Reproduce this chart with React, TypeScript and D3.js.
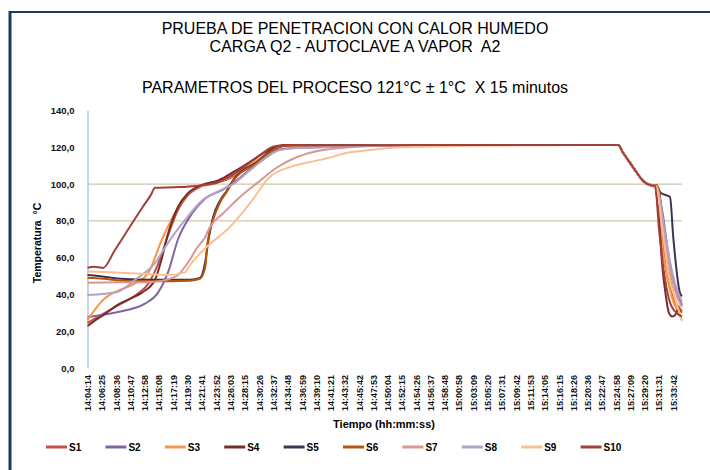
import React, { useEffect, useRef } from 'react';
import * as d3 from 'd3';

const titleLines = [
    'PRUEBA DE PENETRACION CON CALOR HUMEDO',
    'CARGA Q2 - AUTOCLAVE A VAPOR  A2',
    'PARAMETROS DEL PROCESO 121°C ± 1°C  X 15 minutos',
];

const timeLabels = [
    '14:04:14', '14:06:25', '14:08:36', '14:10:47', '14:12:58', '14:15:08', '14:17:19',
    '14:19:30', '14:21:41', '14:23:52', '14:26:03', '14:28:15', '14:30:26', '14:32:37',
    '14:34:48', '14:36:59', '14:39:10', '14:41:21', '14:43:32', '14:45:42', '14:47:53',
    '14:50:04', '14:52:15', '14:54:26', '14:56:37', '14:58:48', '15:00:58', '15:03:09',
    '15:05:20', '15:07:31', '15:09:42', '15:11:53', '15:14:05', '15:16:15', '15:18:26',
    '15:20:36', '15:22:47', '15:24:58', '15:27:09', '15:29:20', '15:31:31', '15:33:42',
];

const yTicks = [0, 20, 40, 60, 80, 100, 120, 140];
const gridValues = [80, 100];

const seriesNames = ['S1', 'S2', 'S3', 'S4', 'S5', 'S6', 'S7', 'S8', 'S9', 'S10'];
const seriesColors = ['#c0504d', '#8064a2', '#f79646', '#772c2a', '#403152',
    '#b65708', '#d99694', '#b3a2c7', '#fac090', '#a33f3b'];

// [seconds since 14:04:14, temperature °C]
const plateau = [[2300, 121.1], [3000, 121.2], [3800, 121.3], [4500, 121.2], [4864, 121.2]];
const cooldown = [[4910, 117], [4974, 111.5], [5038, 106], [5093, 101.7], [5175, 99.2]];

const s1 = [[0, 24.5], [100, 28], [280, 34], [450, 40], [560, 46], [650, 57], [738, 72],
    [830, 86], [921, 94], [1050, 99], [1280, 102.5], [1554, 112], [1765, 120.5], [1900, 121],
    ...plateau, ...cooldown, [5210, 98.5], [5260, 72], [5320, 48], [5390, 35], [5450, 30]];
const s2 = [[0, 27.7], [142, 29], [280, 30.5], [527, 35], [646, 41], [738, 52], [830, 70],
    [958, 84], [1077, 92], [1242, 97], [1334, 100.5], [1490, 108], [1650, 115], [1737, 118.5],
    [1857, 119.5], [2132, 120], [2590, 120.8], [3000, 121.1], [3800, 121.3], [4500, 121.2],
    [4864, 121.2], ...cooldown, [5220, 98], [5270, 85], [5330, 60], [5400, 42], [5450, 34]];
const s3 = [[0, 26], [142, 37], [280, 42], [435, 46], [560, 52], [683, 70], [780, 82],
    [866, 91], [1013, 98.5], [1150, 100], [1280, 103], [1554, 113], [1765, 120.8], [1900, 121.1],
    ...plateau, ...cooldown, [5203, 98], [5250, 78], [5300, 55], [5360, 38], [5420, 30], [5450, 26]];
const s4 = [[0, 22.8], [60, 25.5], [150, 29], [280, 34.5], [400, 38], [500, 41], [619, 48],
    [683, 60], [738, 73], [830, 87.5], [921, 95], [1050, 99.5], [1200, 102], [1350, 107],
    [1500, 112.5], [1650, 118], [1765, 120.8], [1850, 121.3], ...plateau, ...cooldown,
    [5203, 98.5], [5240, 80], [5270, 55], [5300, 40], [5330, 30], [5360, 28], [5390, 29], [5420, 34]];
const s5 = [[0, 50.5], [100, 50], [300, 48.5], [600, 48], [940, 48], [1031, 49], [1080, 58],
    [1110, 70], [1151, 82], [1215, 91], [1279, 96.5], [1334, 102], [1554, 112], [1737, 120],
    [1829, 121.2], ...plateau, ...cooldown, [5203, 98.5], [5260, 95], [5340, 93], [5370, 71],
    [5432, 40.7], [5450, 39]];
const s6 = [[0, 49], [50, 49], [150, 48.5], [300, 47.5], [600, 47.2], [940, 47.5], [1031, 48.5],
    [1080, 55], [1096, 66], [1151, 80.5], [1215, 90], [1279, 96], [1334, 101.5], [1554, 111.5],
    [1737, 119.6], [1829, 121], ...plateau, ...cooldown, [5215, 99.5], [5240, 97], [5280, 70],
    [5340, 48], [5400, 35], [5450, 31]];
const s7 = [[0, 46.4], [300, 46.6], [591, 46.8], [802, 49.5], [940, 59], [1000, 65], [1077, 71],
    [1123, 76.7], [1242, 84], [1398, 93], [1554, 100.5], [1737, 109], [1921, 114.7],
    [2159, 118.5], [2400, 120], [2682, 120.8], [3000, 121.1], [3800, 121.3], [4500, 121.2],
    [4864, 121.2], ...cooldown, [5220, 99], [5280, 75], [5350, 50], [5410, 38], [5450, 33]];
const s8 = [[0, 39.7], [280, 41.5], [435, 48], [619, 57], [738, 68], [894, 80.5], [1050, 91],
    [1200, 96], [1334, 100], [1490, 107.5], [1737, 118], [1857, 119.3], [2132, 120],
    [2590, 120.8], [3000, 121.1], [3800, 121.3], [4500, 121.2], [4864, 121.2], ...cooldown,
    [5230, 96], [5290, 75], [5360, 52], [5420, 40], [5450, 36]];
const s9 = [[0, 52.4], [200, 52], [500, 51.3], [738, 50.6], [894, 52], [940, 56], [1096, 66],
    [1306, 76.7], [1490, 89.6], [1673, 104], [1857, 109.3], [2040, 112], [2196, 114],
    [2379, 117], [2590, 118.5], [2865, 120], [3113, 120.3], [3500, 120.8], [4000, 121.1],
    [4864, 121.2], ...cooldown, [5215, 98], [5270, 75], [5330, 50], [5400, 35], [5450, 25.5]];
const s10 = [[0, 54.5], [60, 55], [100, 54.8], [142, 54.4], [250, 64], [380, 76], [500, 87],
    [580, 94], [619, 98], [800, 98.3], [1000, 99], [1100, 99.8], [1180, 100.6], [1300, 104],
    [1450, 110], [1609, 117], [1700, 120.3], [1765, 121], [1900, 121.2], ...plateau, ...cooldown,
    [5203, 99], [5240, 75], [5290, 50], [5350, 34], [5420, 29], [5450, 28]];

const seriesData = [s1, s2, s3, s4, s5, s6, s7, s8, s9, s10];

const toSeconds = (s: string) => {
    const [h, m, sec] = s.split(':').map(Number);
    return h * 3600 + m * 60 + sec - (14 * 3600 + 4 * 60 + 14);
};

export default function App() {
    const ref = useRef<SVGSVGElement>(null);

    useEffect(() => {
        if (!ref.current) return;
        const svg = d3.select(ref.current);
        svg.selectAll('*').remove();

        const width = 710;
        const height = 470;
        const font = 'Liberation Sans, Arial, sans-serif';

        svg.attr('width', width).attr('height', height);

        // frame
        svg.append('rect').attr('x', 0).attr('y', 0).attr('width', width).attr('height', height).attr('fill', '#fff');
        svg.append('line').attr('x1', 10).attr('x2', 10).attr('y1', 11).attr('y2', height)
            .attr('stroke', '#1f3864').attr('stroke-width', 3);
        svg.append('line').attr('x1', 9).attr('x2', width).attr('y1', 12).attr('y2', 12)
            .attr('stroke', '#1f3864').attr('stroke-width', 2);

        // titles
        const titleY = [34, 52, 93];
        svg.selectAll('text.title')
            .data(titleLines)
            .enter()
            .append('text')
            .attr('class', 'title')
            .attr('x', 355)
            .attr('y', (_, i) => titleY[i])
            .attr('text-anchor', 'middle')
            .attr('font-family', font)
            .attr('font-size', 16)
            .attr('fill', '#000')
            .style('white-space', 'pre')
            .text(d => d);

        const x = d3.scaleLinear().domain([0, 5450]).range([87.5, 682]);
        const y = d3.scaleLinear().domain([0, 140]).range([368, 110.5]);

        // gridlines
        svg.selectAll('line.grid')
            .data(gridValues)
            .enter()
            .append('line')
            .attr('x1', 88).attr('x2', 682)
            .attr('y1', d => y(d)).attr('y2', d => y(d))
            .attr('stroke', '#cdc9ab').attr('stroke-width', 1.3);

        // y axis
        const yAxis = svg.append('g')
            .attr('transform', `translate(87.5,0)`)
            .call(d3.axisLeft(y).tickValues(yTicks).tickSize(0).tickPadding(13)
                .tickFormat(d => d3.format('.1f')(d as number).replace('.', ',')));
        yAxis.select('.domain').attr('stroke', '#b0c8e2').attr('stroke-width', 1.5);
        yAxis.selectAll('text').attr('font-family', font).attr('font-size', 9.5)
            .attr('font-weight', 'bold').attr('fill', '#111');

        // x axis
        const xAxis = svg.append('g')
            .attr('transform', `translate(0,368)`)
            .call(d3.axisBottom(x).tickValues(timeLabels.map(toSeconds)).tickSize(0)
                .tickFormat((_, i) => timeLabels[i]));
        xAxis.select('.domain').remove();
        xAxis.selectAll('text')
            .attr('font-family', font).attr('font-size', 9).attr('font-weight', 'bold').attr('fill', '#111')
            .attr('text-anchor', 'end')
            .attr('transform', 'rotate(-90)')
            .attr('x', -7).attr('y', 0).attr('dy', '0.35em');

        // axis titles
        svg.append('text')
            .attr('transform', 'translate(41,243) rotate(-90)')
            .attr('text-anchor', 'middle')
            .attr('font-family', font).attr('font-size', 10.5).attr('font-weight', 'bold')
            .style('white-space', 'pre')
            .text('Temperatura  °C');
        svg.append('text')
            .attr('x', 384).attr('y', 428)
            .attr('text-anchor', 'middle')
            .attr('font-family', font).attr('font-size', 11).attr('font-weight', 'bold')
            .text('Tiempo (hh:mm:ss)');

        // series lines
        const line = d3.line<number[]>()
            .x(d => x(d[0]))
            .y(d => y(d[1]))
            .curve(d3.curveMonotoneX);

        svg.selectAll('path.series')
            .data(seriesData)
            .enter()
            .append('path')
            .attr('class', 'series')
            .attr('d', d => line(d as number[][]))
            .attr('fill', 'none')
            .attr('stroke', (_, i) => seriesColors[i])
            .attr('stroke-width', 2)
            .attr('stroke-linejoin', 'round');

        // legend
        const legend = svg.selectAll('g.legend')
            .data(seriesNames)
            .enter()
            .append('g')
            .attr('class', 'legend')
            .attr('transform', (_, i) => `translate(${46 + i * 59.4},447)`);
        legend.append('line')
            .attr('x1', 0).attr('x2', 21).attr('y1', 0).attr('y2', 0)
            .attr('stroke', (_, i) => seriesColors[i]).attr('stroke-width', 3);
        legend.append('text')
            .attr('x', 23).attr('y', 4)
            .attr('font-family', font).attr('font-size', 10).attr('font-weight', 'bold')
            .text(d => d);
    }, []);

    return <svg ref={ref} style={{ position: 'absolute', left: 0, top: 0 }} />;
}
